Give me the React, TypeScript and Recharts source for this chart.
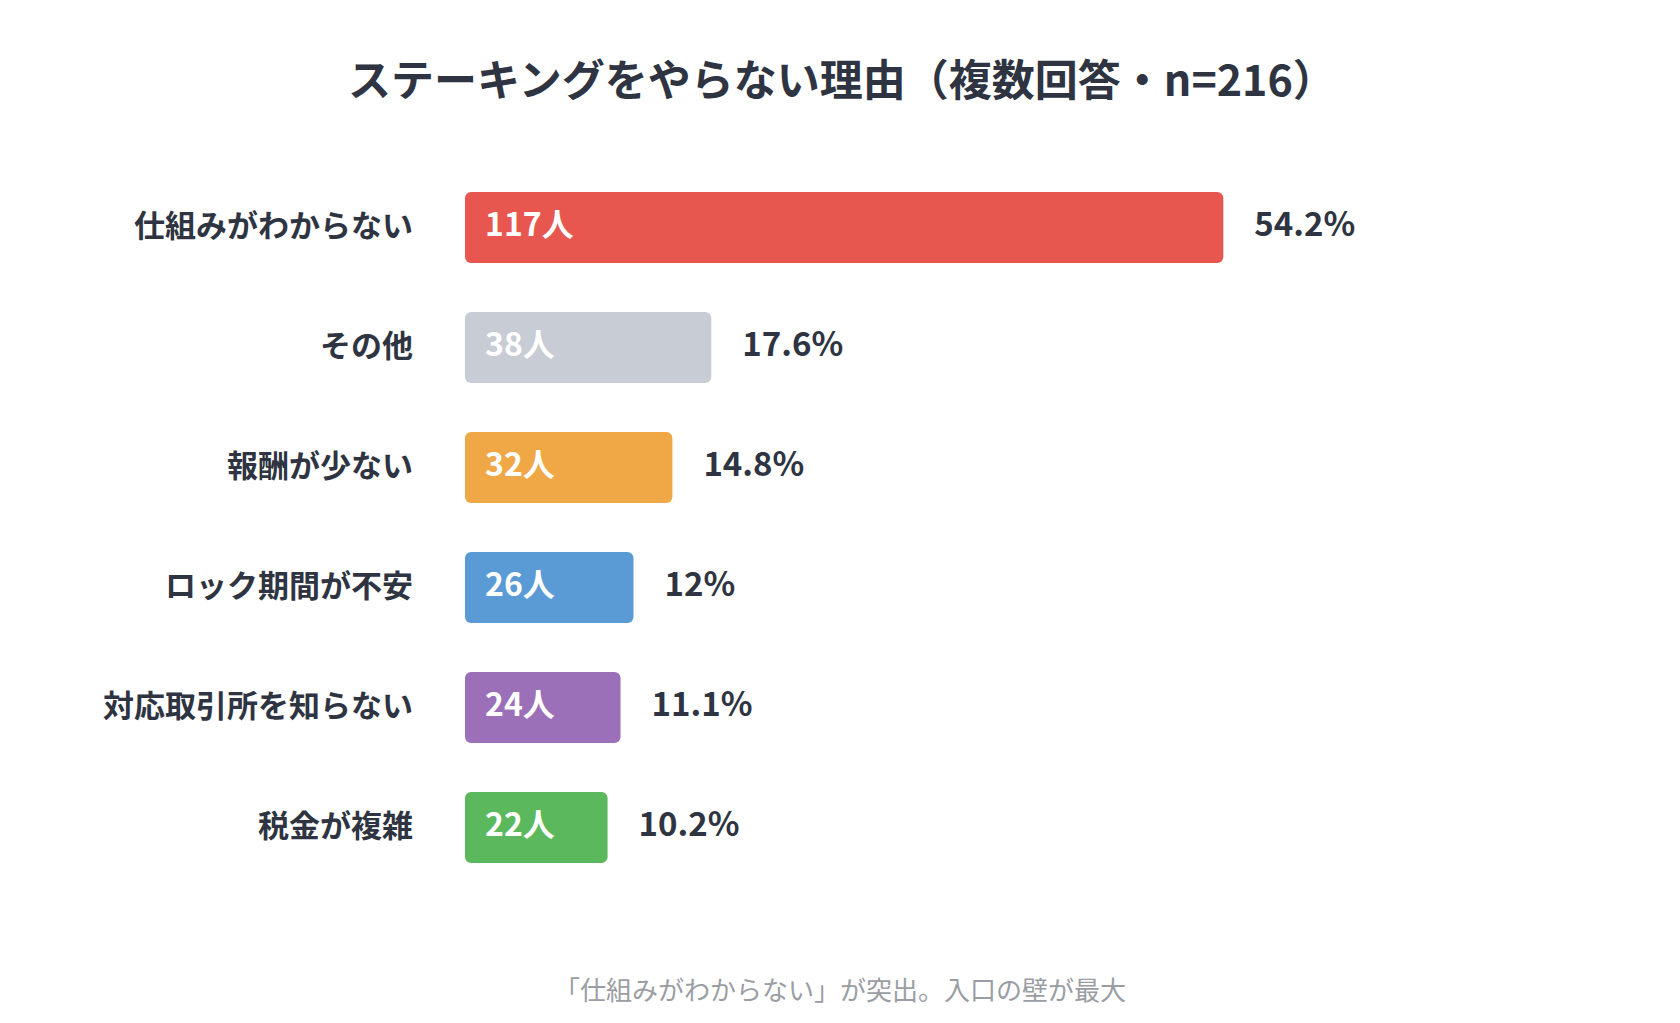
import { BarChart, Bar, XAxis, YAxis, Cell, LabelList } from "recharts";

// Reasons for not staking (multiple answers, n=216)
const reasons = [
  "仕組みがわからない",
  "その他",
  "報酬が少ない",
  "ロック期間が不安",
  "対応取引所を知らない",
  "税金が複雑",
];
const counts = [117, 38, 32, 26, 24, 22];
const percents = [54.2, 17.6, 14.8, 12, 11.1, 10.2];
const colors = ["#E8574F", "#C8CCD4", "#F0A847", "#5B9BD5", "#9B70B8", "#5CB85C"];

const title = "ステーキングをやらない理由（複数回答・n=216）";
const footnote = "「仕組みがわからない」が突出。入口の壁が最大";

const data = reasons.map((name, i) => ({
  name,
  count: counts[i],
  pct: percents[i],
}));

const FONT = "'Noto Sans CJK JP', 'Noto Sans', sans-serif";
const DARK = "#2E3441";

// Category label, right aligned against the bars.
function CategoryTick(props: any) {
  const { y, payload } = props;
  return (
    <text
      x={413}
      y={y}
      dy={-4}
      textAnchor="end"
      dominantBaseline="central"
      fill={DARK}
      fontSize={31}
      fontWeight={700}
      fontFamily={FONT}
    >
      {payload.value}
    </text>
  );
}

export default function App() {
  return (
    <div
      style={{
        position: "absolute",
        left: 0,
        top: 0,
        width: 1680,
        height: 1023,
        background: "#ffffff",
        fontFamily: FONT,
        overflow: "hidden",
      }}
    >
      <div
        style={{
          position: "absolute",
          top: 51,
          left: 2,
          width: 1680,
          textAlign: "center",
          fontSize: 43,
          fontWeight: 700,
          color: DARK,
          lineHeight: "52px",
        }}
      >
        {title}
      </div>

      <div style={{ position: "absolute", left: 0, top: 0 }}>
        <BarChart
          width={1680}
          height={1023}
          data={data}
          layout="vertical"
          margin={{ top: 167, right: 178, bottom: 136, left: 0 }}
          barSize={71}
        >
          <XAxis type="number" hide domain={[0, 160]} />
          <YAxis
            type="category"
            dataKey="name"
            width={465}
            axisLine={false}
            tickLine={false}
            tick={<CategoryTick />}
          />
          <Bar dataKey="count" radius={6} isAnimationActive={false}>
            {data.map((d, i) => (
              <Cell key={d.name} fill={colors[i]} />
            ))}
            <LabelList
              dataKey="count"
              position="insideLeft"
              offset={20}
              formatter={(v: any) => `${v}人`}
              fill="#ffffff"
              fontSize={32}
              fontWeight={700}
              fontFamily={FONT}
              dy={-3}
            />
            <LabelList
              dataKey="pct"
              position="right"
              offset={31}
              formatter={(v: any) => `${v}%`}
              fill={DARK}
              fontSize={33}
              fontWeight={700}
              fontFamily={FONT}
              dy={-3}
            />
          </Bar>
        </BarChart>
      </div>

      <div
        style={{
          position: "absolute",
          top: 973,
          left: 0,
          width: 1680,
          textAlign: "center",
          fontSize: 26,
          color: "#9A9DA3",
          lineHeight: "32px",
        }}
      >
        {footnote}
      </div>
    </div>
  );
}
